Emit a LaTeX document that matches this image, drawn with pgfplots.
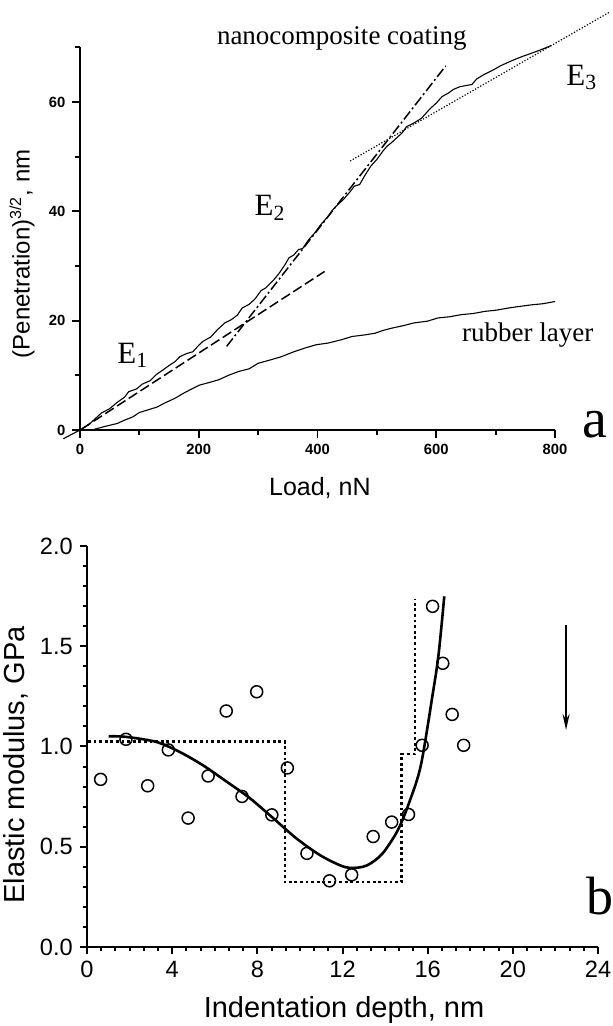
\documentclass[border=0pt]{standalone}
\usepackage{fontspec}
\setmainfont{Liberation Serif}
\setsansfont{Liberation Sans}
\usepackage{pgfplots}
\pgfplotsset{compat=1.18}
\usetikzlibrary{arrows.meta}
\begin{document}
\begin{tikzpicture}
\path[use as bounding box] (0pt,0pt) rectangle (306.5pt,513pt);
% ---------------- panel a ----------------
\begin{axis}[
  at={(40pt,298pt)}, anchor=south west, scale only axis,
  width=237.5pt, height=191.35pt,
  xmin=0, xmax=800, ymin=0, ymax=70,
  axis x line=bottom, axis y line=left,
  axis line style={-, line width=0.9pt},
  xtick={0,200,400,600,800}, ytick={0,20,40,60},
  minor xtick={100,300,500,700}, minor ytick={10,30,50,70},
  tick align=outside, major tick length=3.8pt, minor tick length=2.6pt,
  every tick/.style={line width=0.9pt, black},
  ticklabel style={font=\sffamily\bfseries\fontsize{7.4}{8}\selectfont},
  /pgf/number format/assume math mode=true,
  clip=false,
]
\addplot[black, line width=0.55pt] coordinates {
(-28,-1.6) (0,0) (15,1.0) (25,2.0) (36,3.1) (50,3.9) (62,5.0) (75,6.0) (82,7.0) (95,7.5) (105,8.4) (118,9.0) (128,10.1) (140,11.0) (150,11.8) (160,12.5) (168,13.4) (180,14.0) (190,14.3) (200,15.5) (207,16.2) (220,17.0) (232,18.4) (244,19.6) (255,20.2) (265,21.0) (273,22.3) (285,23.0) (295,24.0) (305,25.5) (313,26.0) (325,27.3) (335,28.6) (345,30.2) (352,31.5) (360,32.0) (368,33.0) (375,33.2) (385,34.8) (395,36.0) (405,37.5) (418,39.1) (425,40.2) (432,41.0) (444,42.2) (455,43.6) (462,44.6) (471,44.9) (480,46.6) (490,48.3) (500,49.5) (510,51.0) (517,51.9) (525,52.6) (535,53.6) (543,54.4) (550,55.5) (556,55.8) (563,56.2) (575,57.0) (589,58.7) (600,59.8) (610,61.0) (620,61.6) (629,62.3) (640,62.8) (650,63.0) (660,63.2) (668,64.2) (680,65.0) (695,65.8) (708,66.6) (720,67.2) (735,67.9) (747,68.4) (760,68.9) (775,69.5) (793,70.3)
};
\addplot[black, line width=0.55pt] coordinates {
(20,0) (40,0.6) (63,1.2) (75,1.8) (89,2.4) (100,3.2) (115,3.7) (130,4.2) (142,4.9) (160,5.8) (174,6.7) (188,7.5) (201,8.2) (218,8.7) (234,9.2) (250,10.0) (267,10.7) (285,11.2) (300,12.2) (320,12.8) (339,13.4) (360,14.3) (379,15.0) (398,15.6) (418,15.9) (440,16.5) (458,17.1) (480,17.4) (497,17.7) (510,18.2) (524,18.6) (545,19.1) (563,19.6) (585,19.9) (603,20.5) (622,20.7) (642,21.1) (662,21.3) (682,21.7) (700,21.9) (721,22.3) (740,22.6) (761,22.9) (780,23.1) (800,23.5)
};
% E1 dashed
\addplot[black, line width=0.75pt, dash pattern=on 5pt off 2pt] coordinates {(3,0.2) (412,29.0)};
% E2 dash-dot
\addplot[black, line width=0.75pt, dash pattern=on 5pt off 1.5pt on 1pt off 1.5pt] coordinates {(247,15.3) (616,66.6)};
% E3 dotted
\addplot[black, line width=0.6pt, dash pattern=on 0.6pt off 0.9pt] coordinates {(455,49.2) (893,76.5)};
\node[anchor=base, font=\fontsize{13.5}{15}\selectfont] at (axis cs:441,70.6) {nanocomposite coating};
\node[anchor=base, font=\fontsize{15.5}{17}\selectfont] at (axis cs:845,63.1) {E\textsubscript{3}};
\node[anchor=base, font=\fontsize{15.5}{17}\selectfont] at (axis cs:320,39.2) {E\textsubscript{2}};
\node[anchor=base, font=\fontsize{15.5}{17}\selectfont] at (axis cs:89,12.2) {E\textsubscript{1}};
\node[anchor=base, font=\fontsize{13.5}{15}\selectfont] at (axis cs:754,16.2) {rubber layer};
\node[anchor=base, font=\fontsize{28}{30}\selectfont] at (axis cs:867,-1.3) {a};
\node[font=\sffamily\fontsize{12.5}{14}\selectfont] at (axis description cs:0.505,-0.152) {Load, nN};
\node[rotate=90, font=\sffamily\fontsize{12}{14}\selectfont] at (axis description cs:-0.122,0.46) {(Penetration)\textsuperscript{3/2}, nm};
\end{axis}
% ---------------- panel b ----------------
\begin{axis}[
  at={(43.5pt,39.5pt)}, anchor=south west, scale only axis,
  width=255.5pt, height=200.5pt,
  xmin=0, xmax=24, ymin=0, ymax=2,
  axis x line=bottom, axis y line=left,
  axis line style={-, line width=1pt},
  xtick={0,4,...,24}, ytick={0,0.5,1,1.5,2},
  minor x tick num=5, minor y tick num=4,
  tick align=outside, major tick length=3.6pt, minor tick length=2.2pt,
  every tick/.style={line width=1pt, black},
  ticklabel style={font=\sffamily\fontsize{11.8}{13}\selectfont},
  yticklabel style={/pgf/number format/.cd, fixed, fixed zerofill, precision=1},
  /pgf/number format/assume math mode=true,
  clip=false,
]
\addplot[only marks, mark=o, mark size=3pt, mark options={line width=0.75pt, black}] coordinates {
(0.64,0.836) (1.83,1.036) (2.85,0.804) (3.82,0.983) (4.75,0.643) (5.69,0.853) (6.54,1.177) (7.28,0.751) (7.97,1.273) (8.68,0.659) (9.41,0.893) (10.33,0.467) (11.39,0.330) (12.43,0.360) (13.44,0.551) (14.31,0.623) (15.10,0.661) (15.74,1.006) (16.23,1.699) (16.71,1.415) (17.15,1.160) (17.69,1.006)
};
\addplot[black, line width=1.05pt, dash pattern=on 1.4pt off 1.4pt] coordinates {
(0.05,1.025) (9.29,1.025) (9.29,0.322) (14.77,0.322) (14.77,0.961) (15.41,0.961) (15.41,1.737)
};
\addplot[black, line width=1.3pt, smooth] coordinates {
(1.02,1.051) (1.83,1.048) (3.25,1.023) (4.35,0.973) (5.45,0.906) (6.54,0.826) (7.64,0.743) (8.74,0.643) (9.83,0.542) (10.93,0.459) (11.85,0.409) (12.39,0.394) (13.13,0.406) (13.86,0.464) (14.59,0.581) (15.14,0.723) (15.68,0.906) (16.23,1.257) (16.51,1.457) (16.78,1.749)
};
\draw[line width=1pt, -{Stealth[length=8pt, width=3.5pt]}] (axis cs:22.5,1.607) -- (axis cs:22.5,1.082);
\node[anchor=base, font=\fontsize{27}{29}\selectfont] at (axis cs:24.1,0.16) {b};
\node[font=\sffamily\fontsize{14.5}{16}\selectfont] at (axis description cs:0.503,-0.156) {Indentation depth, nm};
\node[rotate=90, font=\sffamily\fontsize{14.5}{16}\selectfont] at (axis description cs:-0.139,0.454) {Elastic modulus, GPa};
\end{axis}
\end{tikzpicture}
\end{document}
